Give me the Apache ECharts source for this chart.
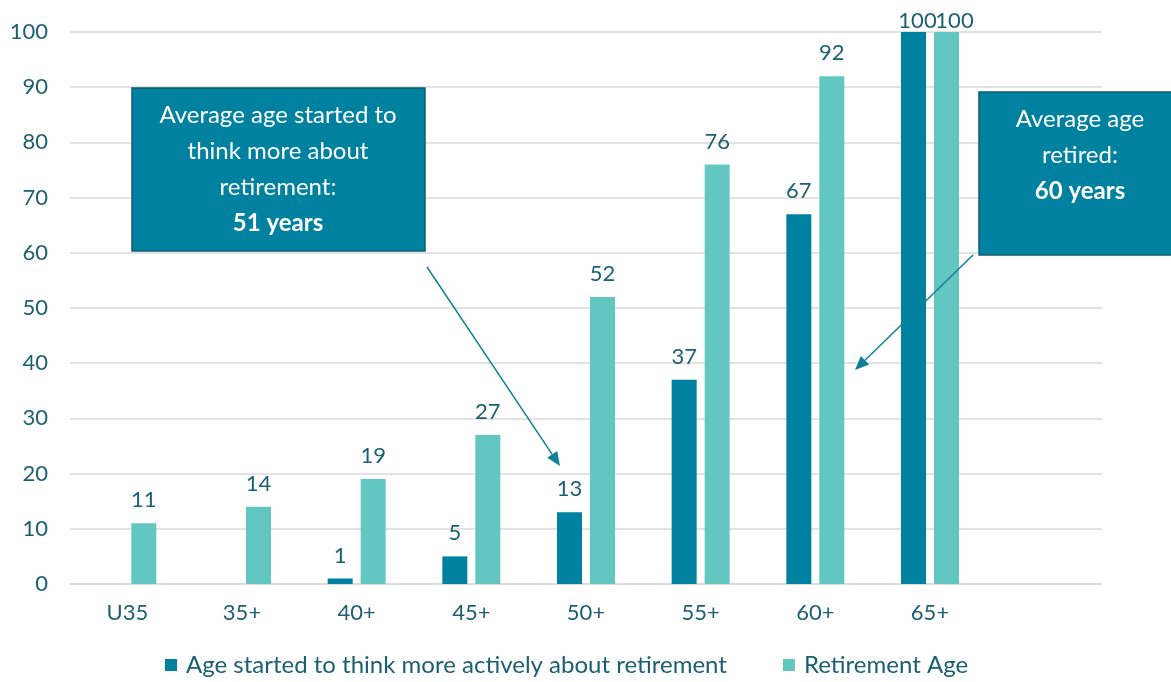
<!DOCTYPE html>
<html>
<head>
<meta charset="utf-8">
<script src="https://cdn.jsdelivr.net/npm/echarts@6/dist/echarts.min.js"></script>
<style>
  html, body { margin: 0; padding: 0; background: #fff; }
  #chart { width: 1171px; height: 682px; }
</style>
</head>
<body>
<div id="chart"></div>
<script>
// categories (last one is an empty slot, as in the original)
var ageGroups = ['U35', '35+', '40+', '45+', '50+', '55+', '60+', '65+', ''];
var startedThinking = [null, null, 1, 5, 13, 37, 67, 100, null];
var retirementAge = [11, 14, 19, 27, 52, 76, 92, 100, null];
var seriesNames = ['Age started to think more actively about retirement', 'Retirement Age'];

var darkTeal = '#00819f';
var lightTeal = '#62c7c1';
var textCol = '#1b5f72';

// labels of the full bars sit right on the top edge, pushed slightly apart
function withLabels(arr, shift) {
  return arr.map(function (v) {
    if (v === 100) return { value: v, label: { distance: 0, offset: [shift, 0] } };
    return v;
  });
}

function arrow(x1, y1, x2, y2) {
  var ang = Math.atan2(y2 - y1, x2 - x1);
  var len = 14, w = 6;
  var bx = x2 - len * Math.cos(ang), by = y2 - len * Math.sin(ang);
  var px = -Math.sin(ang) * w, py = Math.cos(ang) * w;
  return [
    { type: 'line', z: 100, shape: { x1: x1, y1: y1, x2: bx, y2: by }, style: { stroke: '#127f98', lineWidth: 1.5 } },
    { type: 'polygon', z: 100, shape: { points: [[x2, y2], [bx + px, by + py], [bx - px, by - py]] }, style: { fill: '#127f98' } }
  ];
}

var boxStyle = { fill: darkTeal, stroke: '#0d5d70', lineWidth: 1.5 };
var boxText = function (x, y, str) {
  return {
    type: 'text', x: x, y: y, z: 101,
    style: {
      text: str, fill: '#fff', align: 'center', verticalAlign: 'top',
      font: '24px Lato', lineHeight: 36,
      rich: { b: { fontWeight: 'bold', fontSize: 24, fill: '#fff', fontFamily: 'Lato', lineHeight: 36 } }
    }
  };
};

var chart = echarts.init(document.getElementById('chart'));
var option = {
  backgroundColor: '#fff',
  animation: false,
  textStyle: { fontFamily: 'Lato' },
  grid: { left: 70, right: 69, top: 32, bottom: 98 },
  legend: {
    bottom: 0,
    left: 160,
    itemWidth: 12, itemHeight: 12, itemGap: 56,
    icon: 'rect',
    textStyle: { color: textCol, fontSize: 24, fontFamily: 'Lato', padding: [0, 0, 0, 4] },
    data: seriesNames
  },
  xAxis: {
    type: 'category',
    data: ageGroups,
    axisLine: { lineStyle: { color: '#d9d9d9', width: 1.5 } },
    axisTick: { show: false },
    axisLabel: { color: textCol, fontSize: 22, margin: 18 }
  },
  yAxis: {
    type: 'value',
    min: 0, max: 100, interval: 10,
    axisLine: { show: false },
    axisTick: { show: false },
    splitLine: { lineStyle: { color: '#d9d9d9', width: 1.5 } },
    axisLabel: { color: textCol, fontSize: 22, margin: 22 }
  },
  series: [
    {
      name: seriesNames[0], type: 'bar', data: withLabels(startedThinking, 4),
      barWidth: 25, barGap: '32%',
      itemStyle: { color: darkTeal },
      label: { show: true, position: 'top', distance: 12, color: textCol, fontSize: 22 }
    },
    {
      name: seriesNames[1], type: 'bar', data: withLabels(retirementAge, 8),
      barWidth: 25,
      itemStyle: { color: lightTeal },
      label: { show: true, position: 'top', distance: 12, color: textCol, fontSize: 22 }
    }
  ],
  graphic: [
    { type: 'rect', z: 100, shape: { x: 132, y: 88, width: 293, height: 163 }, style: boxStyle },
    boxText(278, 97, 'Average age started to\nthink more about\nretirement:\n{b|51 years}'),
    { type: 'rect', z: 100, shape: { x: 979, y: 92, width: 210, height: 163 }, style: boxStyle },
    boxText(1080, 101, 'Average age\nretired:\n{b|60 years}')
  ].concat(arrow(427, 267, 560, 466)).concat(arrow(973, 255, 855, 370))
};
chart.setOption(option);
</script>
</body>
</html>
